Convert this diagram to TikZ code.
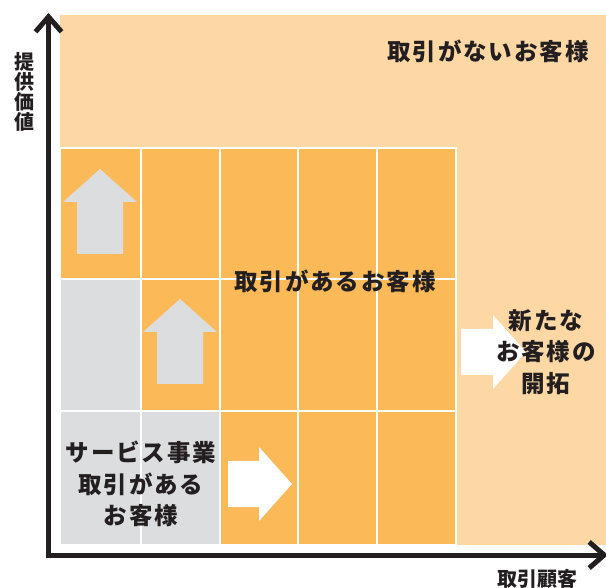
\documentclass[tikz,border=0pt]{standalone}
\usepackage{fontspec}
\usepackage{tikz}
\usetikzlibrary{arrows.meta}
\usetikzlibrary{positioning}
\newfontfamily\jpfont{Noto Sans CJK JP}
\definecolor{paleorange}{HTML}{FDD7A4}
\definecolor{cellorange}{HTML}{FBB957}
\definecolor{cellgray}{HTML}{DCDDDF}
\definecolor{inkdark}{HTML}{231F20}
\tikzset{every picture/.style={x=1pt,y=-1pt},
cellbox/.style={draw=white,line width=2.5pt,inner sep=0pt,outer sep=0pt},
jptext/.style={text=inkdark,align=center,inner sep=0pt,font=\jpfont\bfseries\fontsize{23.5}{31.5}\selectfont\addfontfeature{LetterSpace=8}},
axistext/.style={text=inkdark,align=center,inner sep=0pt,font=\jpfont\bfseries\fontsize{20}{20}\selectfont},
axisline/.style={draw=inkdark,line width=5pt,{Straight Barb[length=15pt,width=26pt]}-{Straight Barb[length=15pt,width=26pt]}},
pics/blockarrow/.style={code={\path[pic actions] (0,-23) -- (#1-33,-23) -- (#1-33,-37) -- (#1,0) -- (#1-33,37) -- (#1-33,23) -- (0,23) -- cycle;}}}

\begin{document}
\begin{tikzpicture}
\useasboundingbox (0,0) rectangle (606,588);
\node (field) at (333,280) [fill=paleorange,inner sep=0pt,minimum width=546pt,minimum height=530pt] {};
\foreach \cx/\w [count=\i] in {100.5/81, 180.5/79, 259/78, 337.5/79, 416.5/79} {
\foreach \cy/\h [count=\j] in {213.5/131, 345/132, 478/134} {
\ifnum\i<\j \def\cellcol{cellgray}\else\def\cellcol{cellorange}\fi
\node (cell\i\j) at (\cx,\cy) [cellbox,fill=\cellcol,minimum width=\w pt,minimum height=\h pt] {};
}
}
\pic (up1) [fill=cellgray,rotate=90] at (100,254) {blockarrow=85};
\pic (up2) [fill=cellgray,rotate=90] at (180,384) {blockarrow=85};
\pic (right1) [fill=white] at (228,484) {blockarrow=64};
\pic (right2) [fill=white] at (461,352) {blockarrow=65};
\node (nocustomer) at (488,51) [jptext] {取引がないお客様};
\node (customer) at (335,281) [jptext] {取引があるお客様};
\node (newcustomer) at (546,352) [jptext] {新たな\\お客様の\\開拓};
\node (servicecustomer) at (141,484) [jptext] {サービス事業\\取引がある\\お客様};
\coordinate (origin) at (48.5,555);
\coordinate (ytip) at (48.5,13);
\coordinate (xtip) at (608,555);
\draw[axisline] (ytip) -- (origin) -- (xtip);
\node (ylabel) at (25,92) [axistext] {提\\供\\価\\値};
\node (xlabel) at (537,579) [axistext] {取引顧客};
\end{tikzpicture}
\end{document}
